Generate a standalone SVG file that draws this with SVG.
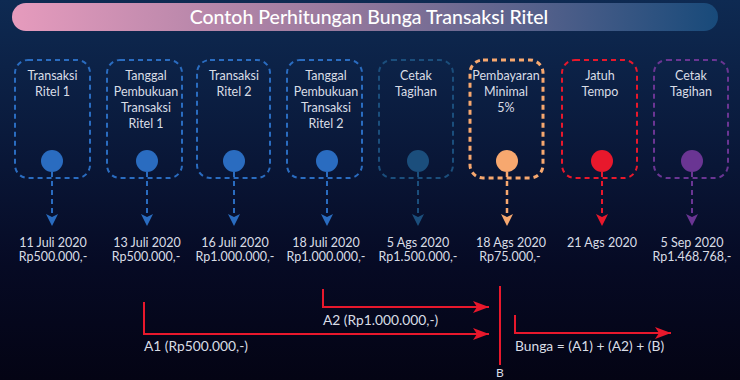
<svg xmlns="http://www.w3.org/2000/svg" width="740" height="380" viewBox="0 0 740 380">
<defs>
<linearGradient id="bg" x1="0" y1="0" x2="0" y2="1">
<stop offset="0" stop-color="#0e2a52"/>
<stop offset="0.35" stop-color="#0a1a3c"/>
<stop offset="0.7" stop-color="#060a24"/>
<stop offset="1" stop-color="#040414"/>
</linearGradient>
<linearGradient id="tb" x1="0" y1="0" x2="1" y2="0">
<stop offset="0" stop-color="#e69bbd"/>
<stop offset="0.45" stop-color="#9a7a9e"/>
<stop offset="1" stop-color="#184a7a"/>
</linearGradient>
<marker id="aBlue" viewBox="0 0 12 12" markerWidth="12" markerHeight="12" refX="12" refY="6" orient="auto" markerUnits="userSpaceOnUse"><path d="M0,0 L12,6 L0,12 L3,6 Z" fill="#2a6cc0"/></marker>
<marker id="aDark" viewBox="0 0 12 12" markerWidth="12" markerHeight="12" refX="12" refY="6" orient="auto" markerUnits="userSpaceOnUse"><path d="M0,0 L12,6 L0,12 L3,6 Z" fill="#1b4e7c"/></marker>
<marker id="aOr" viewBox="0 0 12 12" markerWidth="12" markerHeight="12" refX="12" refY="6" orient="auto" markerUnits="userSpaceOnUse"><path d="M0,0 L12,6 L0,12 L3,6 Z" fill="#f7a86f"/></marker>
<marker id="aRed" viewBox="0 0 12 12" markerWidth="12" markerHeight="12" refX="12" refY="6" orient="auto" markerUnits="userSpaceOnUse"><path d="M0,0 L12,6 L0,12 L3,6 Z" fill="#e8182c"/></marker>
<marker id="aPur" viewBox="0 0 12 12" markerWidth="12" markerHeight="12" refX="12" refY="6" orient="auto" markerUnits="userSpaceOnUse"><path d="M0,0 L12,6 L0,12 L3,6 Z" fill="#6a3593"/></marker>
<marker id="aR" viewBox="0 0 16 12" markerWidth="16" markerHeight="12" refX="16" refY="6" orient="auto" markerUnits="userSpaceOnUse"><path d="M0,0 L16,6 L0,12 L4,6 Z" fill="#e8182c"/></marker>
</defs>
<style>
text{font-family:Lato,"Noto Sans",sans-serif;fill:#d9dde6;font-size:12.5px;text-anchor:middle}
.title{fill:#ffffff;font-size:19.5px;font-weight:500}
.lbl{text-anchor:start;font-size:13.8px}
.box{fill:none;stroke-width:2;stroke-dasharray:5,4}
.blue{stroke:#2a6cc0}
.dark{stroke:#1b4e7c}
.or{stroke:#f7a86f;stroke-width:3}
.red{stroke:#e8182c}
.pur{stroke:#6a3593}
.conn{fill:none;stroke-width:2;stroke-dasharray:5,4}
.rl{fill:none;stroke:#e8182c;stroke-width:2}
</style>
<rect x="0" y="0" width="740" height="380" fill="url(#bg)"/>
<g id="title">
<rect x="12" y="3" width="706" height="28" rx="14" fill="url(#tb)"/>
<text class="title" x="369" y="24">Contoh Perhitungan Bunga Transaksi Ritel</text>
</g>
<g id="n1">
<rect class="box blue" x="15" y="60" width="75" height="118" rx="13"/>
<text x="52.5" y="80">Transaksi</text><text x="52.5" y="96">Ritel 1</text>
<circle cx="52" cy="161" r="11" fill="#2a6cc0"/>
<text x="53" y="247">11 Juli 2020</text><text x="53" y="261">Rp500.000,-</text>
</g>
<g id="n2">
<rect class="box blue" x="107" y="60" width="75" height="118" rx="13"/>
<text x="146" y="80">Tanggal</text><text x="146" y="96">Pembukuan</text><text x="146" y="112">Transaksi</text><text x="146" y="128">Ritel 1</text>
<circle cx="147" cy="161" r="11" fill="#2a6cc0"/>
<text x="147" y="247">13 Juli 2020</text><text x="146" y="261">Rp500.000,-</text>
</g>
<g id="n3">
<rect class="box blue" x="197" y="60" width="73" height="118" rx="13"/>
<text x="234" y="80">Transaksi</text><text x="234" y="96">Ritel 2</text>
<circle cx="234" cy="161" r="11" fill="#2a6cc0"/>
<text x="235" y="247">16 Juli 2020</text><text x="235" y="261">Rp1.000.000,-</text>
</g>
<g id="n4">
<rect class="box blue" x="287" y="60" width="75" height="118" rx="13"/>
<text x="326" y="80">Tanggal</text><text x="326" y="96">Pembukuan</text><text x="326" y="112">Transaksi</text><text x="326" y="128">Ritel 2</text>
<circle cx="327" cy="161" r="11" fill="#2a6cc0"/>
<text x="326" y="247">18 Juli 2020</text><text x="326" y="261">Rp1.000.000,-</text>
</g>
<g id="n5">
<rect class="box dark" x="379" y="60" width="74" height="118" rx="13"/>
<text x="416" y="80">Cetak</text><text x="416" y="96">Tagihan</text>
<circle cx="418" cy="161" r="11" fill="#1b4e7c"/>
<text x="418" y="247">5 Ags 2020</text><text x="418" y="261">Rp1.500.000,-</text>
</g>
<g id="n6">
<rect class="box or" x="470" y="60" width="73" height="118" rx="13"/>
<text x="506" y="80">Pembayaran</text><text x="506" y="96">Minimal</text><text x="506" y="112">5%</text>
<circle cx="507" cy="161" r="11" fill="#f7a86f"/>
<text x="511" y="247">18 Ags 2020</text><text x="510" y="261">Rp75.000,-</text>
</g>
<g id="n7">
<rect class="box red" x="562" y="60" width="75" height="118" rx="13"/>
<text x="600" y="80">Jatuh</text><text x="600" y="96">Tempo</text>
<circle cx="602" cy="161" r="11" fill="#e8182c"/>
<text x="602" y="247">21 Ags 2020</text>
</g>
<g id="n8">
<rect class="box pur" x="654" y="60" width="74" height="118" rx="13"/>
<text x="691" y="80">Cetak</text><text x="691" y="96">Tagihan</text>
<circle cx="692" cy="161" r="11" fill="#6a3593"/>
<text x="692" y="247">5 Sep 2020</text><text x="692" y="261">Rp1.468.768,-</text>
</g>
<g id="connectors">
<line class="conn blue" x1="52" y1="172" x2="52" y2="226" marker-end="url(#aBlue)"/>
<line class="conn blue" x1="147" y1="172" x2="147" y2="226" marker-end="url(#aBlue)"/>
<line class="conn blue" x1="234" y1="172" x2="234" y2="226" marker-end="url(#aBlue)"/>
<line class="conn blue" x1="327" y1="172" x2="327" y2="226" marker-end="url(#aBlue)"/>
<line class="conn dark" x1="418" y1="172" x2="418" y2="226" marker-end="url(#aDark)"/>
<line class="conn or" x1="507" y1="172" x2="507" y2="226" style="stroke-width:2.5" marker-end="url(#aOr)"/>
<line class="conn red" x1="602" y1="172" x2="602" y2="226" marker-end="url(#aRed)"/>
<line class="conn pur" x1="692" y1="172" x2="692" y2="226" marker-end="url(#aPur)"/>
<polyline class="rl" points="144,302 144,334 489,334" marker-end="url(#aR)"/>
<polyline class="rl" points="323,289 323,307 489,307" marker-end="url(#aR)"/>
<line class="rl" x1="500" y1="286" x2="500" y2="365"/>
<polyline class="rl" points="515,315 515,333 671,333" marker-end="url(#aR)"/>
</g>
<g id="labels">
<text class="lbl" x="144" y="351">A1 (Rp500.000,-)</text>
<text class="lbl" x="323" y="325">A2 (Rp1.000.000,-)</text>
<text class="lbl" x="515" y="351">Bunga = (A1) + (A2) + (B)</text>
<text x="500" y="377" style="font-size:12px">B</text>
</g>
</svg>
